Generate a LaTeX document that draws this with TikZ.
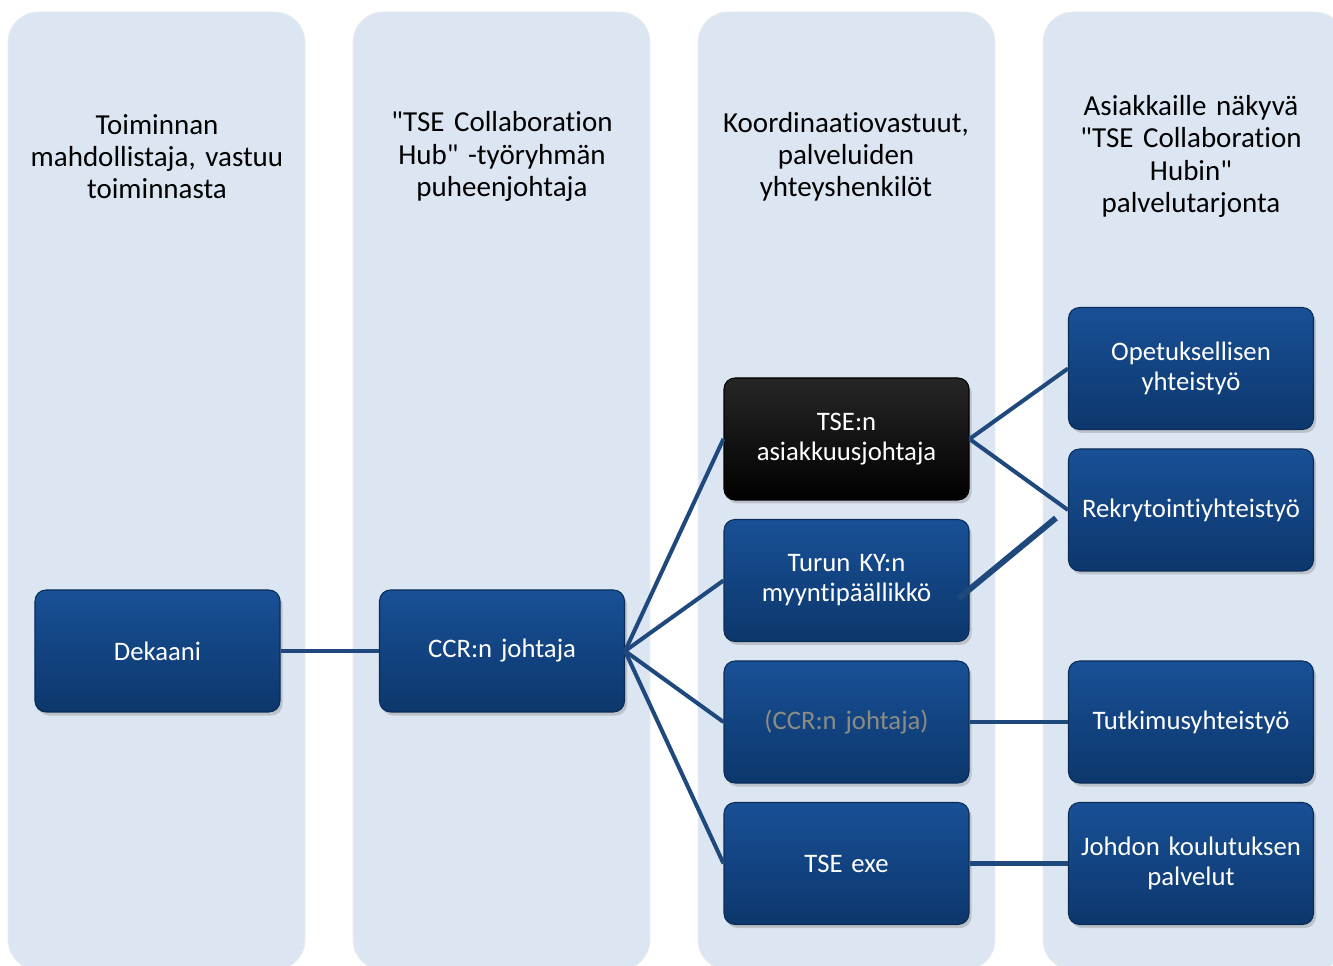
\documentclass[tikz,border=0pt]{standalone}
\usepackage{fontspec}
\setmainfont{Carlito}[Ligatures={NoCommon}]
\usetikzlibrary{shadows,calc}

\definecolor{colfill}{RGB}{220,230,242}
\definecolor{boxtop}{RGB}{25,80,150}
\definecolor{boxbot}{RGB}{12,55,108}
\definecolor{linkblue}{RGB}{31,73,125}
\definecolor{dimtext}{RGB}{140,140,130}

\begin{document}
\begin{tikzpicture}[%
    column/.style={fill=colfill,draw=white!85!gray,rounded corners=0.6cm},
    title/.style={align=center,text width=5.8cm,font=\fontsize{16.5}{18.3}\selectfont},
    role/.style={rounded corners=0.22cm,minimum width=4.9cm,minimum height=2.44cm,
        inner sep=0.1cm,text width=4.7cm,align=center,text=white,top color=boxtop,bottom color=boxbot,
        draw=boxbot!80!black,line width=0.6pt,drop shadow={opacity=0.35,shadow xshift=0.05cm,shadow yshift=-0.07cm},
        font=\fontsize{15.2}{17}\selectfont},
    lead/.style={role,top color=black!85,bottom color=black,draw=black},
    link/.style={draw=linkblue,line width=2.3pt}
    ]

    \useasboundingbox (0,0) rectangle (26.66,19.3);

    % background columns
    \path[column] (0.16,-0.1) rectangle (6.1,19.06);
    \path[column] (7.06,-0.1) rectangle (13.0,19.06);
    \path[column] (13.96,-0.1) rectangle (19.9,19.06);
    \path[column] (20.86,-0.1) rectangle (26.9,19.06);

    % column headings
    \node[title] (h1) at (3.14,16.17) {Toiminnan\\mahdollistaja, vastuu\\toiminnasta};
    \node[title] (h2) at (10.04,16.17) {\textquotedbl TSE Collaboration\\Hub\textquotedbl\ -työryhmän\\puheenjohtaja};
    \node[title] (h3) at (16.92,16.17) {Koordinaatiovastuut,\\palveluiden\\yhteyshenkilöt};
    \node[title] (h4) at (23.82,16.17) {Asiakkaille näkyvä\\\textquotedbl TSE Collaboration\\Hubin\textquotedbl\\palvelutarjonta};

    % people
    \node[role] (dekaani) at (3.15,6.28) {Dekaani};
    \node[role] (ccr) at (10.04,6.28) {CCR:n johtaja};
    \node[lead] (asiakkuus) at (16.93,10.52) {TSE:n\\asiakkuusjohtaja};
    \node[role] (turun) at (16.93,7.69) {Turun KY:n\\myyntipäällikkö};
    \node[role,text=dimtext] (ccrb) at (16.93,4.86) {(CCR:n johtaja)};
    \node[role] (exe) at (16.93,2.03) {TSE exe};

    % services
    \node[role] (opetus) at (23.82,11.93) {Opetuksellisen\\yhteistyö};
    \node[role] (rekry) at (23.82,9.1) {Rekrytointiyhteistyö};
    \node[role] (tutkimus) at (23.82,4.86) {Tutkimusyhteistyö};
    \node[role] (johdon) at (23.82,2.03) {Johdon koulutuksen\\palvelut};

    \path[link] (dekaani) -- (ccr);
    \path[link] (ccr.east) -- (asiakkuus.west);
    \path[link] (ccr.east) -- (turun.west);
    \path[link] (ccr.east) -- (ccrb.west);
    \path[link] (ccr.east) -- (exe.west);
    \path[link] (asiakkuus.east) -- (opetus.west);
    \path[link] (asiakkuus.east) -- (rekry.west);
    \path[link,line width=3.4pt] ([xshift=-0.22cm,yshift=-0.36cm]turun.east) -- ([xshift=-0.24cm,yshift=-0.16cm]rekry.west);
    \path[link] (ccrb) -- (tutkimus);
    \path[link] (exe) -- (johdon);

    \end{tikzpicture}
\end{document}
